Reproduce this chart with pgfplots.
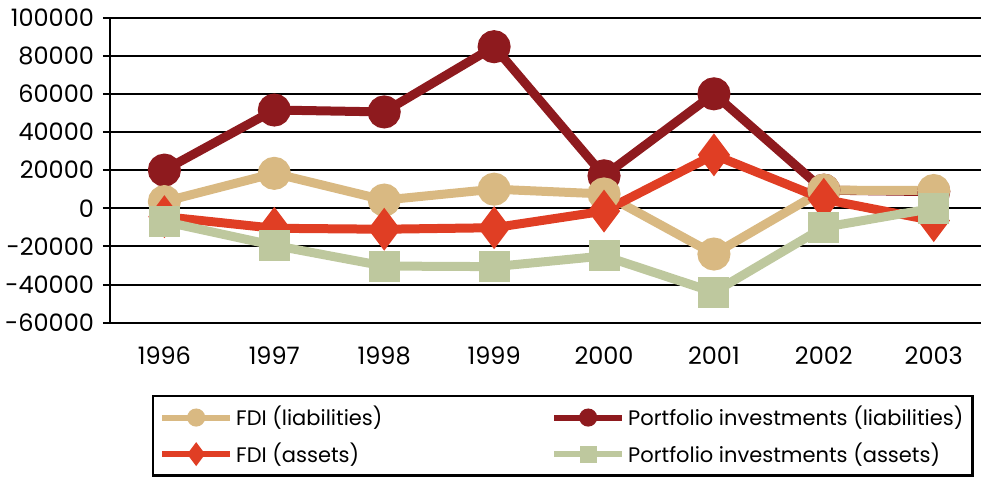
\documentclass[border=0pt]{standalone}
\usepackage{pgfplots}
\pgfplotsset{compat=1.18}
\usepackage{fontspec}
\setmainfont{Poppins}
\definecolor{ctan}{RGB}{217,185,130}
\definecolor{cdark}{RGB}{142,26,30}
\definecolor{cred}{RGB}{224,62,36}
\definecolor{cgreen}{RGB}{190,200,158}
\begin{document}
\begin{tikzpicture}
\path[use as bounding box] (-55pt,-77.65pt) rectangle (435.5pt,161.35pt);
\begin{axis}[
  scale only axis,
  width=435.5pt, height=152.6pt,
  xmin=-0.495, xmax=7.43,
  ymin=-60000, ymax=100000,
  ytick={-60000,-40000,-20000,0,20000,40000,60000,80000,100000},
  yticklabels={-60000,-40000,-20000,0,20000,40000,60000,80000,100000},
  xtick={0,1,2,3,4,5,6,7},
  xticklabels={1996,1997,1998,1999,2000,2001,2002,2003},
  scaled y ticks=false,
  ymajorgrids,
  grid style={black, line width=1pt},
  axis x line*=bottom,
  axis y line*=left,
  axis line style={black, line width=1.3pt, -},
  x axis line style={draw=none},
  major x tick style={draw=none},
  y tick style={black, line width=1pt},
  tick align=outside,
  major tick length=3.5pt,
  tick label style={font=\fontsize{12}{14}\selectfont},
  yticklabel style={xshift=-1pt},
  xticklabel style={yshift=-5pt},
  clip=false,
  legend columns=2,
  legend cell align=left,
  legend style={at={(rel axis cs:0.0482,-0.237)}, anchor=north west,
    draw=black, line width=1.2pt, inner xsep=3pt, inner ysep=3pt,
    font=\fontsize{10.5}{12}\selectfont,
    nodes={inner xsep=1.5pt},
    /tikz/every even column/.append style={column sep=0pt},
    row sep=3pt},
  legend image code/.code={\draw[mark repeat=2,mark phase=2,#1] plot coordinates {(0pt,0pt)(17pt,0pt)(34pt,0pt)};},
]
\addlegendimage{color=ctan, line width=3pt, mark=*, mark size=3pt}
\addlegendentry{\makebox[156pt][l]{FDI (liabilities)}}
\addlegendimage{color=cdark, line width=3pt, mark=*, mark size=3pt}
\addlegendentry{Portfolio investments (liabilities)}
\addlegendimage{color=cred, line width=3pt, mark=diamond*, mark size=3.5pt}
\addlegendentry{\makebox[156pt][l]{FDI (assets)}}
\addlegendimage{color=cgreen, line width=3pt, mark=square*, mark size=2.8pt}
\addlegendentry{Portfolio investments (assets)}

\addplot[forget plot, color=cdark, line width=4.5pt, mark=*, mark size=6pt] coordinates {
(0,20000) (1,51500) (2,50500) (3,84700) (4,17000) (5,60000) (6,9500) (7,8700)};
\addplot[forget plot, color=ctan, line width=4.5pt, mark=*, mark size=6pt] coordinates {
(0,3500) (1,18300) (2,4300) (3,10000) (4,7500) (5,-24000) (6,9500) (7,9300)};
\addplot[forget plot, color=cred, line width=4.5pt, mark=diamond*, mark size=7pt] coordinates {
(0,-4400) (1,-10500) (2,-11000) (3,-10200) (4,-1500) (5,28000) (6,4700) (7,-6500)};
\addplot[forget plot, color=cgreen, line width=4.5pt, mark=square*, mark size=5.5pt] coordinates {
(0,-7000) (1,-19500) (2,-30300) (3,-30600) (4,-25000) (5,-44000) (6,-10000) (7,0)};
\end{axis}
\end{tikzpicture}
\end{document}
